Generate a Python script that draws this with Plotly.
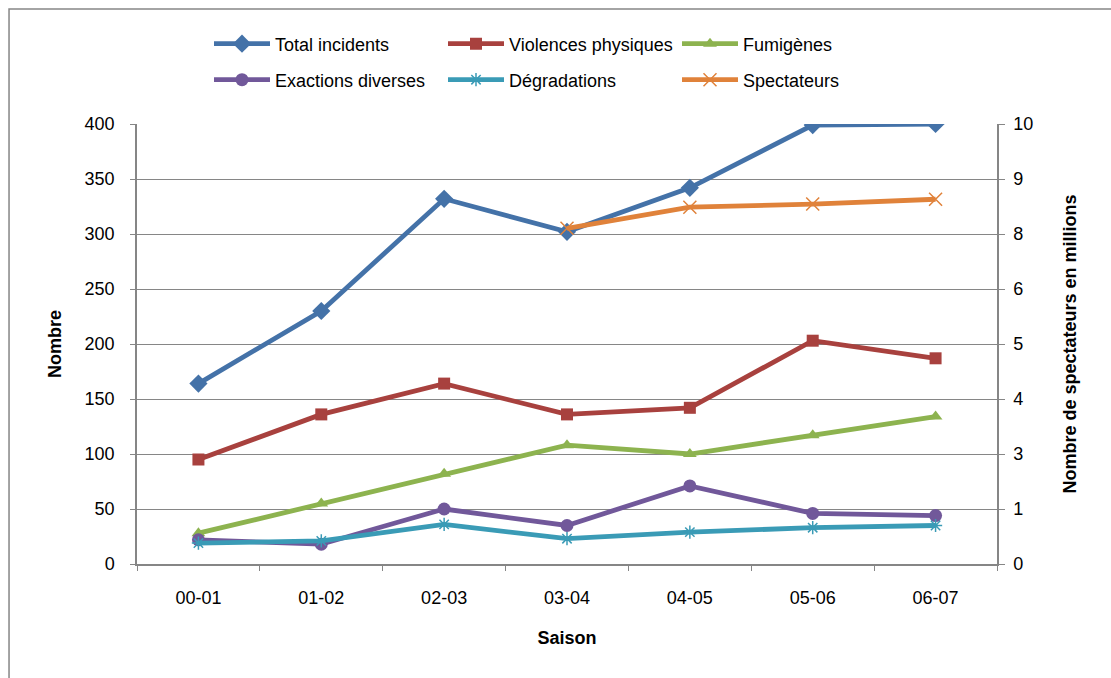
import plotly.graph_objects as go

# Saisons et séries (incidents en nombre, spectateurs en millions)
saisons = ["00-01", "01-02", "02-03", "03-04", "04-05", "05-06", "06-07"]
total_incidents = [164, 230, 332, 302, 342, 399, 400]
violences_physiques = [95, 136, 164, 136, 142, 203, 187]
fumigenes = [28, 55, 82, 108, 100, 117, 134]
exactions_diverses = [22, 18, 50, 35, 71, 46, 44]
degradations = [19, 21, 36, 23, 29, 33, 35]
spectateurs = [None, None, None, 7.63, 8.11, 8.18, 8.29]

# Graduations de l'axe secondaire (pas de 1,25 affiché sans décimale)
y2_ticks = [0, 1.25, 2.5, 3.75, 5, 6.25, 7.5, 8.75, 10]
y2_labels = ["0", "1", "3", "4", "5", "6", "8", "9", "10"]

FONT = "Liberation Sans, Arial, sans-serif"
GRID = "#868686"

series = [
    ("Total incidents", total_incidents, "#4472A8", "diamond", 14, "y", "legend"),
    ("Violences physiques", violences_physiques, "#A8413E", "square", 12, "y", "legend"),
    ("Fumigènes", fumigenes, "#8DB34F", "triangle-up", 12, "y", "legend"),
    ("Exactions diverses", exactions_diverses, "#71589A", "circle", 13, "y", "legend2"),
    ("Dégradations", degradations, "#3A9BB6", "asterisk-open", 11, "y", "legend2"),
    ("Spectateurs", spectateurs, "#E0823A", "x-thin-open", 13, "y2", "legend2"),
]

fig = go.Figure()
for name, vals, color, sym, size, yax, leg in series:
    open_sym = sym.endswith("-open")
    fig.add_trace(go.Scatter(
        x=saisons, y=vals, name=name, yaxis=yax, legend=leg,
        mode="lines+markers",
        line=dict(color=color, width=4.8),
        marker=dict(symbol=sym, size=size, color=color,
                    line=dict(color=color, width=1.5 if open_sym else 0)),
        connectgaps=False,
    ))

# Cadre extérieur du graphique
fig.add_shape(type="rect", xref="paper", yref="paper",
              x0=-0.1488, x1=1.16, y0=-0.30, y1=1.2614,
              line=dict(color=GRID, width=1.5), fillcolor="rgba(0,0,0,0)",
              layer="below")

legend_common = dict(
    orientation="h", xanchor="left", yanchor="middle",
    font=dict(family=FONT, size=18, color="#000000"),
    entrywidth=163, entrywidthmode="pixels",
    itemwidth=56, bgcolor="rgba(0,0,0,0)", borderwidth=0,
    traceorder="normal",
)

fig.update_layout(
    width=1111, height=678,
    margin=dict(l=137, r=114, t=124, b=114),
    paper_bgcolor="white", plot_bgcolor="white",
    font=dict(family=FONT, size=18, color="#000000"),
    showlegend=True,
    legend=dict(x=(209 - 137) / 860, y=(564 - 44) / 440, **legend_common),
    legend2=dict(x=(209 - 137) / 860, y=(564 - 80) / 440, **legend_common),
    xaxis=dict(
        type="category", range=[-0.5, 6.5],
        showline=True, linecolor=GRID, linewidth=1.5,
        ticks="outside", tickson="boundaries", ticklen=5, tickcolor=GRID,
        showgrid=False, zeroline=False,
        tickfont=dict(family=FONT, size=18), ticklabelstandoff=17,
        title=dict(text="<b>Saison</b>", font=dict(family=FONT, size=18), standoff=24),
    ),
    yaxis=dict(
        range=[0, 400], tickmode="array", tickvals=list(range(0, 401, 50)),
        showline=True, linecolor=GRID, linewidth=1.5,
        ticks="outside", ticklen=5, tickcolor=GRID,
        showgrid=True, gridcolor=GRID, gridwidth=1.2, zeroline=False,
        tickfont=dict(family=FONT, size=18), ticklabelstandoff=12,
        title=dict(text="<b>Nombre</b>", font=dict(family=FONT, size=18), standoff=18),
    ),
    yaxis2=dict(
        overlaying="y", side="right", range=[0, 10],
        tickmode="array", tickvals=y2_ticks, ticktext=y2_labels,
        showline=True, linecolor=GRID, linewidth=1.5,
        ticks="outside", ticklen=6, tickcolor=GRID,
        showgrid=False, zeroline=False,
        tickfont=dict(family=FONT, size=18), ticklabelstandoff=5,
        title=dict(text="<b>Nombre de spectateurs en millions</b>",
                   font=dict(family=FONT, size=18), standoff=31),
    ),
)

fig.write_html("out.html")
